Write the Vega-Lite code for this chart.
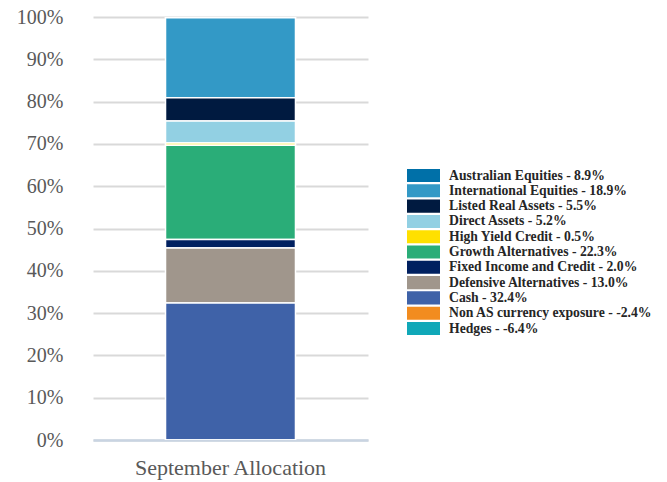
{
  "$schema": "https://vega.github.io/schema/vega-lite/v6.json",
  "autosize": "none",
  "width": 275,
  "height": 423,
  "padding": {"left": 93, "top": 17, "right": 299, "bottom": 42},
  "background": "white",
  "config": {"view": {"stroke": null}},
  "data": {
    "values": [
      {"period": "September Allocation", "asset": "Australian Equities - 8.9%", "value": 8.9, "ord": 9},
      {"period": "September Allocation", "asset": "International Equities - 18.9%", "value": 18.9, "ord": 8},
      {"period": "September Allocation", "asset": "Listed Real Assets - 5.5%", "value": 5.5, "ord": 7},
      {"period": "September Allocation", "asset": "Direct Assets - 5.2%", "value": 5.2, "ord": 6},
      {"period": "September Allocation", "asset": "High Yield Credit - 0.5%", "value": 0.5, "ord": 5},
      {"period": "September Allocation", "asset": "Growth Alternatives - 22.3%", "value": 22.3, "ord": 4},
      {"period": "September Allocation", "asset": "Fixed Income and Credit - 2.0%", "value": 2.0, "ord": 3},
      {"period": "September Allocation", "asset": "Defensive Alternatives - 13.0%", "value": 13.0, "ord": 2},
      {"period": "September Allocation", "asset": "Cash - 32.4%", "value": 32.4, "ord": 1},
      {"period": "September Allocation", "asset": "Non AS currency exposure - -2.4%", "value": -2.4, "ord": 10},
      {"period": "September Allocation", "asset": "Hedges - -6.4%", "value": -6.4, "ord": 11}
    ]
  },
  "mark": {"type": "bar", "clip": true, "stroke": "white", "strokeWidth": 1.5},
  "encoding": {
    "x": {
      "field": "period",
      "type": "nominal",
      "scale": {"paddingInner": 0, "paddingOuter": 0.558},
      "axis": {
        "title": null,
        "labelAngle": 0,
        "labelFont": "Liberation Serif",
        "labelFontSize": 22,
        "labelColor": "#595959",
        "labelPadding": 17,
        "labelLimit": 400,
        "ticks": false,
        "domainColor": "#C9D4E2",
        "domainWidth": 2.5
      }
    },
    "y": {
      "field": "value",
      "type": "quantitative",
      "stack": "zero",
      "scale": {"domain": [0, 100], "nice": false},
      "axis": {
        "title": null,
        "values": [0, 10, 20, 30, 40, 50, 60, 70, 80, 90, 100],
        "labelExpr": "datum.value + '%'",
        "labelFont": "Liberation Serif",
        "labelFontSize": 20,
        "labelColor": "#595959",
        "labelPadding": 30,
        "ticks": false,
        "domain": false,
        "gridColor": "#D9D9D9",
        "gridWidth": 2
      }
    },
    "color": {
      "field": "asset",
      "type": "nominal",
      "sort": {"field": "ord", "order": "descending"},
      "scale": {
        "domain": [
          "Australian Equities - 8.9%",
          "International Equities - 18.9%",
          "Listed Real Assets - 5.5%",
          "Direct Assets - 5.2%",
          "High Yield Credit - 0.5%",
          "Growth Alternatives - 22.3%",
          "Fixed Income and Credit - 2.0%",
          "Defensive Alternatives - 13.0%",
          "Cash - 32.4%",
          "Non AS currency exposure - -2.4%",
          "Hedges - -6.4%"
        ],
        "range": ["#0070A8", "#3399C6", "#001A40", "#92D0E3", "#FFE000", "#2AAD78", "#002060", "#A0968C", "#3F62A8", "#F28C1F", "#10A8B8"]
      },
      "legend": {
        "title": null,
        "orient": "none",
        "legendX": 323,
        "legendY": 151,
        "symbolType": "M-2.2,-0.87H2.2V0.87H-2.2Z",
        "symbolSize": 225,
        "symbolStrokeWidth": 0,
        "symbolOpacity": 1,
        "labelFont": "Liberation Serif",
        "labelFontWeight": "bold",
        "labelFontSize": 13.7,
        "labelColor": "#262626",
        "labelOffset": 18,
        "rowPadding": 0.3,
        "labelLimit": 300
      }
    },
    "order": {"field": "ord", "type": "quantitative", "sort": "ascending"}
  }
}
